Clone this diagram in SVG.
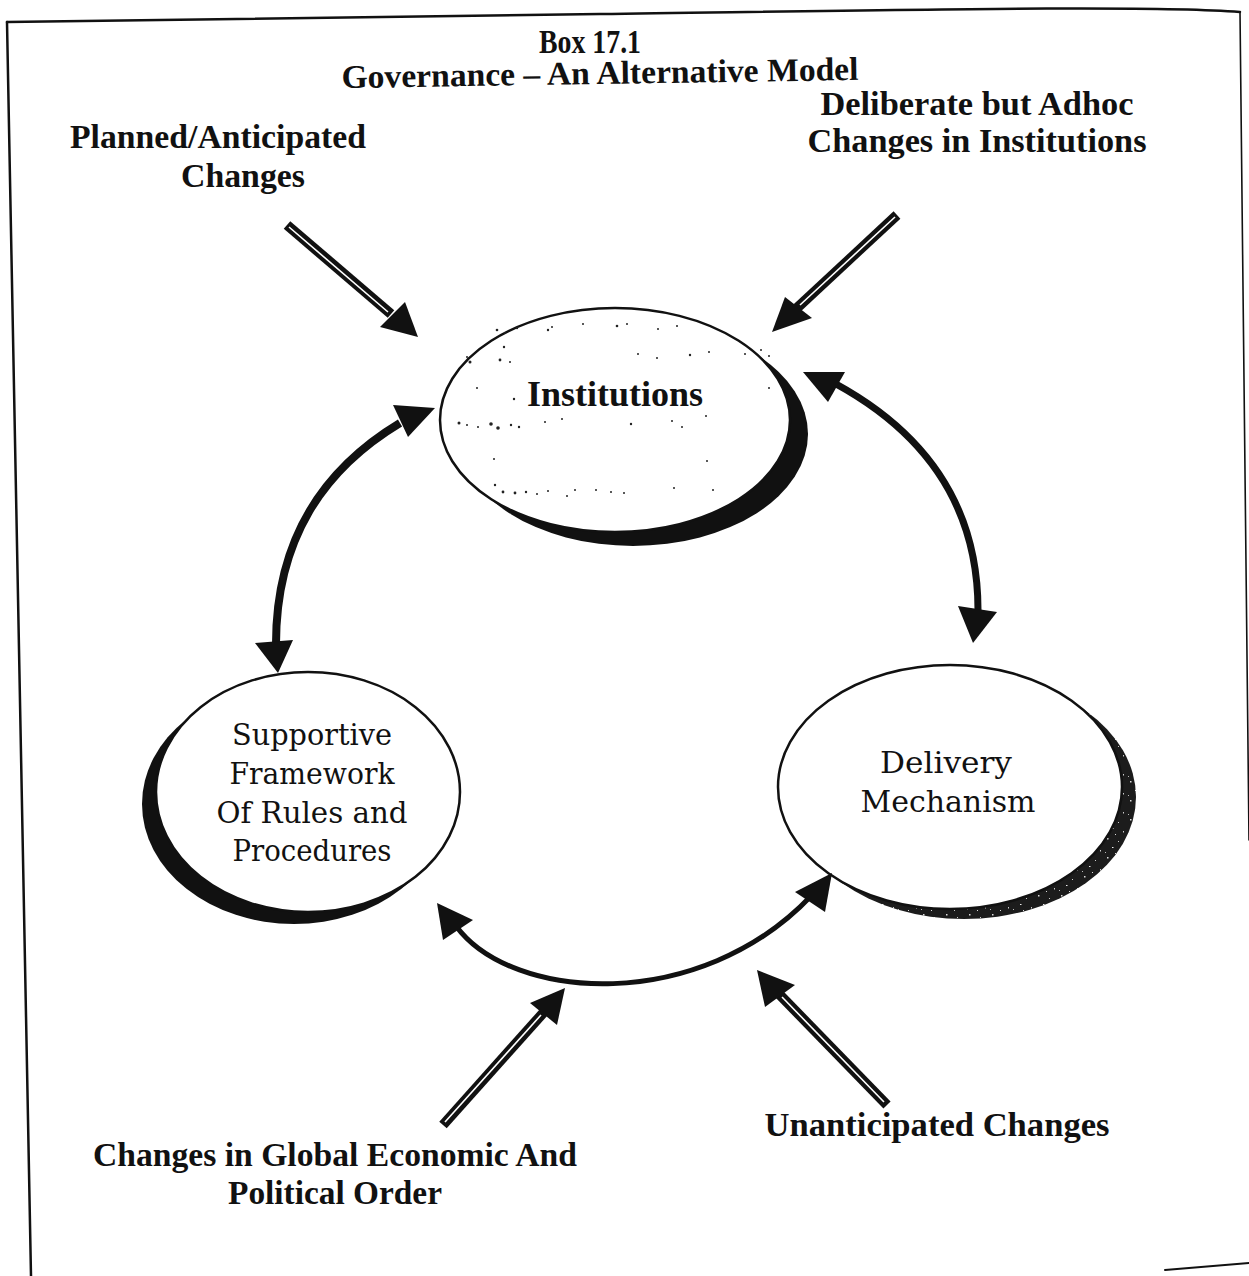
<svg xmlns="http://www.w3.org/2000/svg" width="1249" height="1276" viewBox="0 0 1249 1276">
  <style>
    .frame { fill: none; stroke: #111; stroke-linecap: round; }
    .hd { font-family: "Liberation Serif", "Times New Roman", serif; font-weight: bold; font-size: 33px; fill: #111; text-anchor: middle; }
    .lbl { font-family: "Liberation Serif", "Times New Roman", serif; font-weight: bold; font-size: 34px; fill: #111; text-anchor: middle; }
    .nodeb { font-family: "Liberation Serif", "Times New Roman", serif; font-weight: bold; font-size: 35px; fill: #111; text-anchor: middle; }
    .node { font-family: "DejaVu Serif", "Liberation Serif", serif; font-size: 30px; fill: #111; text-anchor: middle; }
    .face { fill: #fff; stroke: #111; stroke-width: 2.5; }
    .shade { fill: #111; }
    .grain { fill: url(#grain); }
    .shaft { fill: none; stroke: #111; stroke-width: 10; stroke-linecap: butt; }
    .gap { fill: none; stroke: #fff; stroke-width: 1.6; }
    .curve { fill: none; stroke: #111; stroke-linecap: butt; }
    .head { fill: #111; }
    .speck { fill: #222; }
  </style>
  <defs>
    <!-- fine grain used on the Delivery Mechanism shadow -->
    <pattern id="grain" width="23" height="19" patternUnits="userSpaceOnUse">
      <rect width="23" height="19" fill="#1c1c1c"/>
      <rect x="3" y="2" width="1.5" height="1.5" fill="#ddd"/>
      <rect x="14" y="5" width="1" height="1" fill="#ccc"/>
      <rect x="8" y="11" width="1.5" height="1" fill="#eee"/>
      <rect x="19" y="14" width="1" height="1.5" fill="#ccc"/>
      <rect x="1" y="16" width="1" height="1" fill="#bbb"/>
      <rect x="11" y="17" width="1" height="1" fill="#ddd"/>
    </pattern>
  </defs>

  <rect width="1249" height="1276" fill="#fff"/>

  <!-- page frame -->
  <g id="frame">
    <path class="frame" stroke-width="2.5" d="M7,22 L600,14 C900,10 1150,5 1240,12"/>
    <path class="frame" stroke-width="2.5" d="M7,22 L31,1276"/>
    <path class="frame" stroke-width="1.6" d="M1240,12 L1249,840"/>
    <path class="frame" stroke-width="2" d="M1165,1270 L1249,1263"/>
  </g>

  <!-- heading -->
  <g id="title">
    <text class="hd" x="590" y="53" textLength="102" lengthAdjust="spacingAndGlyphs">Box 17.1</text>
    <text class="hd" x="600" y="84" textLength="517" lengthAdjust="spacingAndGlyphs" transform="rotate(-0.9 600 75)">Governance – An Alternative Model</text>
  </g>

  <!-- external influences -->
  <g id="label-planned">
    <text class="lbl" x="218" y="148" textLength="296" lengthAdjust="spacingAndGlyphs">Planned/Anticipated</text>
    <text class="lbl" x="243" y="187" textLength="124" lengthAdjust="spacingAndGlyphs">Changes</text>
  </g>
  <g id="label-deliberate">
    <text class="lbl" x="977" y="115" textLength="313" lengthAdjust="spacingAndGlyphs">Deliberate but Adhoc</text>
    <text class="lbl" x="977" y="152" textLength="339" lengthAdjust="spacingAndGlyphs">Changes in Institutions</text>
  </g>
  <g id="label-unanticipated">
    <text class="lbl" x="937" y="1136" textLength="345" lengthAdjust="spacingAndGlyphs">Unanticipated Changes</text>
  </g>
  <g id="label-global">
    <text class="lbl" x="335" y="1166" textLength="484" lengthAdjust="spacingAndGlyphs">Changes in Global Economic And</text>
    <text class="lbl" x="335" y="1204" textLength="214" lengthAdjust="spacingAndGlyphs">Political Order</text>
  </g>

  <!-- Institutions -->
  <g id="node-institutions">
    <ellipse class="shade" cx="633" cy="434" rx="175" ry="112"/>
    <ellipse class="face" cx="615" cy="420" rx="175" ry="112"/>
    <g class="speck">
      <circle cx="497" cy="330" r="1.3"/><circle cx="505" cy="333" r="1"/><circle cx="517" cy="328" r="1.2"/>
      <circle cx="548" cy="330" r="1.2"/><circle cx="552" cy="327" r="1"/><circle cx="583" cy="324" r="1"/>
      <circle cx="617" cy="326" r="1.3"/><circle cx="627" cy="324" r="1"/><circle cx="658" cy="329" r="1"/>
      <circle cx="677" cy="326" r="1"/><circle cx="504" cy="347" r="1.2"/><circle cx="470" cy="362" r="1.5"/>
      <circle cx="467" cy="357" r="1"/><circle cx="500" cy="360" r="1.4"/><circle cx="510" cy="362" r="1"/>
      <circle cx="638" cy="354" r="1"/><circle cx="657" cy="358" r="1"/><circle cx="690" cy="355" r="1.2"/>
      <circle cx="709" cy="352" r="1"/><circle cx="745" cy="354" r="1"/><circle cx="761" cy="350" r="1"/>
      <circle cx="477" cy="388" r="1"/><circle cx="514" cy="399" r="1.2"/><circle cx="459" cy="423" r="1.5"/>
      <circle cx="467" cy="425" r="1"/><circle cx="478" cy="427" r="1"/><circle cx="491" cy="424" r="1.8"/>
      <circle cx="498" cy="428" r="1.8"/><circle cx="511" cy="425" r="1.2"/><circle cx="519" cy="427" r="1.2"/>
      <circle cx="545" cy="422" r="1"/><circle cx="562" cy="419" r="1"/><circle cx="631" cy="424" r="1.2"/>
      <circle cx="672" cy="421" r="1"/><circle cx="682" cy="427" r="1"/><circle cx="706" cy="416" r="1"/>
      <circle cx="494" cy="459" r="1"/><circle cx="707" cy="461" r="1"/><circle cx="495" cy="485" r="1.2"/>
      <circle cx="503" cy="492" r="1.4"/><circle cx="515" cy="493" r="1.4"/><circle cx="526" cy="492" r="1.2"/>
      <circle cx="537" cy="494" r="1"/><circle cx="548" cy="491" r="1"/><circle cx="567" cy="496" r="1"/>
      <circle cx="575" cy="490" r="1"/><circle cx="596" cy="490" r="1"/><circle cx="611" cy="492" r="1"/>
      <circle cx="624" cy="493" r="1"/><circle cx="674" cy="488" r="1"/><circle cx="713" cy="490" r="1"/>
      <circle cx="769" cy="356" r="1"/><circle cx="769" cy="388" r="1"/>
    </g>
    <text class="nodeb" x="615" y="406" textLength="176" lengthAdjust="spacingAndGlyphs">Institutions</text>
  </g>

  <!-- Supportive Framework -->
  <g id="node-framework">
    <ellipse class="shade" cx="294" cy="804" rx="152" ry="120"/>
    <ellipse class="face" cx="308" cy="792" rx="152" ry="120"/>
    <text class="node" x="312" y="745" textLength="160" lengthAdjust="spacingAndGlyphs">Supportive</text>
    <text class="node" x="312" y="784" textLength="165" lengthAdjust="spacingAndGlyphs">Framework</text>
    <text class="node" x="312" y="823" textLength="191" lengthAdjust="spacingAndGlyphs">Of Rules and</text>
    <text class="node" x="312" y="861" textLength="159" lengthAdjust="spacingAndGlyphs">Procedures</text>
  </g>

  <!-- Delivery Mechanism -->
  <g id="node-delivery">
    <ellipse class="grain" cx="964" cy="797" rx="172" ry="122"/>
    <ellipse class="face" cx="950" cy="787" rx="172" ry="122"/>
    <text class="node" x="946" y="773" textLength="132" lengthAdjust="spacingAndGlyphs">Delivery</text>
    <text class="node" x="948" y="812" textLength="175" lengthAdjust="spacingAndGlyphs">Mechanism</text>
  </g>

  <!-- connectors -->
  <g id="connectors">
    <!-- double-line inflow arrows -->
    <g id="arrow-planned">
      <line class="shaft" x1="287" y1="225" x2="391" y2="314"/>
      <line class="gap" x1="289" y1="227" x2="388" y2="312"/>
      <polygon class="head" points="418,337 380,327 405,302"/>
    </g>
    <g id="arrow-deliberate">
      <line class="shaft" x1="897" y1="215" x2="797" y2="308"/>
      <line class="gap" x1="895" y1="217" x2="800" y2="305"/>
      <polygon class="head" points="772,332 785,297 812,318"/>
    </g>
    <g id="arrow-global">
      <line class="shaft" x1="443" y1="1125" x2="544" y2="1012"/>
      <line class="gap" x1="445" y1="1122" x2="541" y2="1015"/>
      <polygon class="head" points="565,988 530,1003 557,1025"/>
    </g>
    <g id="arrow-unanticipated">
      <line class="shaft" x1="887" y1="1105" x2="779" y2="994"/>
      <line class="gap" x1="884" y1="1102" x2="782" y2="997"/>
      <polygon class="head" points="757,970 765,1007 795,985"/>
    </g>

    <!-- two-way links between the three nodes -->
    <g id="link-institutions-framework">
      <path class="curve" stroke-width="8" d="M400,423 C322,470 276,540 276,644"/>
      <polygon class="head" points="435,408 393,405 408,437"/>
      <polygon class="head" points="278,673 255,643 293,640"/>
    </g>
    <g id="link-institutions-delivery">
      <path class="curve" stroke-width="7" d="M836,384 C920,430 978,500 978,610"/>
      <polygon class="head" points="803,372 845,372 828,402"/>
      <polygon class="head" points="973,643 958,606 997,612"/>
    </g>
    <g id="link-framework-delivery">
      <path class="curve" stroke-width="5" d="M456,926 C512,1002 700,1014 812,895"/>
      <polygon class="head" points="437,903 473,920 443,940"/>
      <polygon class="head" points="832,873 795,892 825,912"/>
    </g>
  </g>
</svg>
